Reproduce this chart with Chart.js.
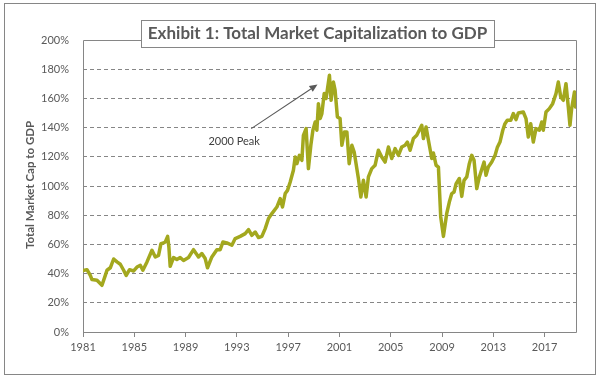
<!DOCTYPE html>
<html>
<head>
<meta charset="utf-8">
<script src="https://cdn.jsdelivr.net/npm/chart.js@4/dist/chart.umd.min.js"></script>
<style>
  html, body { margin: 0; padding: 0; background: #fff; }
  canvas { display: block; }
</style>
</head>
<body>
<canvas id="c" width="599" height="378"></canvas>
<script>
const chartTitle = 'Exhibit 1: Total Market Capitalization to GDP';
const yAxisTitle = 'Total Market Cap to GDP';
const annotationText = '2000 Peak';

const years = [
  1981.00,1981.31,1981.57,1981.70,1982.09,1982.48,1982.74,1982.87,1983.13,1983.39,
  1983.65,1983.91,1984.17,1984.37,1984.63,1984.95,1985.21,1985.47,1985.67,1985.99,
  1986.38,1986.64,1986.89,1987.08,1987.28,1987.41,1987.60,1987.70,1987.80,1988.06,
  1988.32,1988.58,1988.84,1989.23,1989.62,1990.01,1990.27,1990.53,1990.71,1991.05,
  1991.44,1991.70,1991.91,1992.22,1992.61,1992.87,1993.26,1993.65,1993.91,1994.17,
  1994.43,1994.69,1994.95,1995.21,1995.47,1995.73,1996.12,1996.38,1996.56,1996.77,
  1996.95,1997.16,1997.41,1997.55,1997.68,1997.88,1998.07,1998.19,1998.40,1998.58,
  1998.77,1998.93,1999.11,1999.24,1999.36,1999.50,1999.63,1999.81,1999.96,2000.22,
  2000.35,2000.53,2000.66,2000.84,2001.05,2001.19,2001.39,2001.58,2001.76,2001.97,
  2002.15,2002.48,2002.67,2002.87,2003.08,2003.26,2003.52,2003.78,2004.04,2004.30,
  2004.56,2004.82,2005.08,2005.34,2005.60,2005.86,2006.12,2006.30,2006.51,2006.77,
  2007.03,2007.42,2007.55,2007.76,2007.94,2008.20,2008.33,2008.54,2008.72,2008.90,
  2009.11,2009.37,2009.57,2009.76,2009.94,2010.10,2010.35,2010.54,2010.72,2010.93,
  2011.13,2011.32,2011.50,2011.71,2011.91,2012.28,2012.43,2012.61,2012.88,2013.14,
  2013.31,2013.52,2013.74,2013.91,2014.09,2014.36,2014.56,2014.77,2014.95,2015.34,
  2015.55,2015.73,2015.92,2016.12,2016.33,2016.59,2016.78,2016.90,2017.11,2017.37,
  2017.63,2017.89,2018.07,2018.26,2018.46,2018.67,2018.85,2018.98,2019.11,2019.33,
  2019.42
];
const capToGdp = [
  42,42.7,38.8,35.9,35.4,32,38.8,42.3,44,50,
  48,46.4,42.3,38.8,42.7,41.8,44.5,45.7,42.3,48,
  56,51.4,52.5,60.5,61,61.6,65.5,58,45,51,
  49.6,51,49,51,56.4,51.4,53.7,50.3,44,51.4,
  56.4,56.4,61.6,61,59.4,64,65.5,67.4,70.1,66.2,
  68.5,64.7,65.5,70.8,77.7,81.1,85.6,91.4,85.6,94.8,
  97,102.7,110.8,119.9,115.3,121,117.6,134.7,139.3,111.9,
  127.9,138.2,143.8,138.2,156.4,146.2,149.6,163.3,159.9,175.8,
  158.7,171.2,165.6,147.3,146.2,127.9,137,137,115.3,127.9,
  123.3,105.1,92.5,103.9,92.5,106.2,111.9,114.2,124.5,119.9,
  116.4,126.7,118.8,125.6,121,126.7,127.9,130.1,124.5,132.5,
  134.7,141.6,132.5,140.4,131.3,118.8,122.6,114.2,113,78.8,
  65.5,81.3,89,94.8,95.9,101.6,105.1,92.9,103.9,106.2,
  115.3,121,117.6,98.2,106.2,116.4,107.3,113,116.4,121,
  126.3,130.1,138.2,142.7,145,145,149.6,145.5,150,150.7,
  146.2,133.6,142.7,130.1,139.3,138.2,143.8,138.2,150.7,153,
  156.4,163.3,171.2,161,158.7,170.1,154.1,141.6,153,164.4,
  154.1
];
const xTickYears = [1981,1985,1989,1993,1997,2001,2005,2009,2013,2017];
const xTickLabels = ['1981','1985','1989','1993','1997','2001','2005','2009','2013','2017'];
const yTickValues = [0,20,40,60,80,100,120,140,160,180,200];
const yTickLabels = ['0%','20%','40%','60%','80%','100%','120%','140%','160%','180%','200%'];
const xEnd = 2019.45;

const gray = '#868686';
const textGray = '#595959';
const fontFam = 'Lato, "Open Sans", sans-serif';

const decorPlugin = {
  id: 'decor',
  beforeDatasetsDraw(chart) {
    const ctx = chart.ctx, a = chart.chartArea;
    ctx.save();
    ctx.strokeStyle = gray;
    ctx.lineWidth = 1;
    ctx.beginPath();
    ctx.moveTo(Math.round(a.left) + 0.5, Math.round(a.bottom) + 0.5);
    ctx.lineTo(Math.round(a.left) + 0.5, Math.round(a.top) + 0.5);
    ctx.lineTo(Math.round(a.right) + 0.5, Math.round(a.top) + 0.5);
    ctx.lineTo(Math.round(a.right) + 0.5, Math.round(a.bottom) + 0.5);
    ctx.lineTo(Math.round(a.left) + 0.5, Math.round(a.bottom) + 0.5);
    ctx.stroke();
    ctx.restore();
  },
  afterDraw(chart) {
    const ctx = chart.ctx;
    const xs = chart.scales.x, ys = chart.scales.y;
    ctx.save();
    // outer border
    ctx.strokeStyle = gray;
    ctx.lineWidth = 1;
    ctx.strokeRect(4.5, 3.5, 591, 371);

    // title box
    ctx.font = 'bold 17px ' + fontFam;
    const tw = ctx.measureText(chartTitle).width;
    const cx = 317.5, cy = 34;
    const bx = Math.round(cx - tw / 2 - 7) + 0.5, bw = Math.round(tw + 14);
    ctx.fillStyle = '#fff';
    ctx.fillRect(bx, 20.5, bw, 27);
    ctx.strokeRect(bx, 20.5, bw, 27);
    ctx.fillStyle = textGray;
    ctx.textAlign = 'center';
    ctx.textBaseline = 'middle';
    ctx.fillText(chartTitle, cx, cy);

    // y axis title
    ctx.save();
    ctx.translate(30, 185);
    ctx.rotate(-Math.PI / 2);
    ctx.font = 'bold 11.5px ' + fontFam;
    ctx.fillText(yAxisTitle, 0, 0);
    ctx.restore();

    // annotation arrow
    const tx = xs.getPixelForValue(1999.29), ty = ys.getPixelForValue(169.5);
    const sx = xs.getPixelForValue(1994.12), sy = ys.getPixelForValue(139.3);
    ctx.strokeStyle = '#595959';
    ctx.fillStyle = '#595959';
    ctx.lineWidth = 1.1;
    const ang = Math.atan2(ty - sy, tx - sx);
    const hl = 8, hw = 3.5;
    const bxp = tx - hl * Math.cos(ang), byp = ty - hl * Math.sin(ang);
    ctx.beginPath();
    ctx.moveTo(sx, sy);
    ctx.lineTo(bxp, byp);
    ctx.stroke();
    ctx.beginPath();
    ctx.moveTo(tx, ty);
    ctx.lineTo(bxp + hw * Math.sin(ang), byp - hw * Math.cos(ang));
    ctx.lineTo(bxp - hw * Math.sin(ang), byp + hw * Math.cos(ang));
    ctx.closePath();
    ctx.fill();

    ctx.font = '11px ' + fontFam;
    ctx.fillStyle = '#404040';
    ctx.textAlign = 'center';
    ctx.textBaseline = 'middle';
    ctx.fillText(annotationText, xs.getPixelForValue(1992.79), ys.getPixelForValue(130.6));
    ctx.restore();
  }
};

new Chart(document.getElementById('c'), {
  type: 'line',
  data: {
    datasets: [{
      data: years.map((y, i) => ({ x: y, y: capToGdp[i] })),
      borderColor: '#A3A81E',
      borderWidth: 3.5,
      borderJoinStyle: 'round',
      borderCapStyle: 'round',
      pointRadius: 0,
      tension: 0,
      fill: false
    }]
  },
  options: {
    responsive: false,
    animation: false,
    layout: { padding: { left: 0, top: 40, right: 23, bottom: 0 } },
    plugins: { legend: { display: false }, tooltip: { enabled: false } },
    scales: {
      x: {
        type: 'linear',
        min: 1981,
        max: xEnd,
        afterBuildTicks: s => { s.ticks = xTickYears.map(v => ({ value: v })); },
        afterFit: s => { s.height = 46; },
        grid: { drawOnChartArea: false, drawTicks: true, tickLength: 5, color: gray },
        border: { display: false },
        ticks: {
          padding: 4,
          maxRotation: 0,
          autoSkip: false,
          color: textGray,
          font: { family: fontFam, size: 11 },
          callback: (v, i) => xTickLabels[i]
        }
      },
      y: {
        min: 0,
        max: 200,
        afterBuildTicks: s => { s.ticks = yTickValues.map(v => ({ value: v })); },
        afterFit: s => { s.width = 83; },
        grid: {
          drawTicks: false,
          color: ctx => (ctx.tick && (ctx.tick.value === 0 || ctx.tick.value === 200)) ? 'rgba(0,0,0,0)' : gray
        },
        border: { display: false, dash: [4, 3] },
        ticks: {
          padding: 14,
          color: textGray,
          font: { family: fontFam, size: 11 },
          callback: (v, i) => yTickLabels[i]
        }
      }
    }
  },
  plugins: [decorPlugin]
});
</script>
</body>
</html>
